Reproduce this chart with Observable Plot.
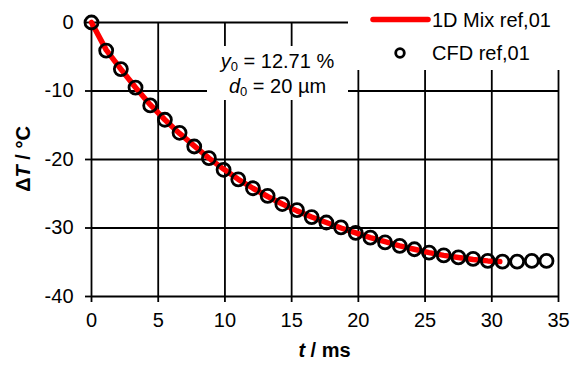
<!DOCTYPE html>
<html>
<head>
<meta charset="utf-8">
<script src="https://cdn.jsdelivr.net/npm/d3@7"></script>
<script src="https://cdn.jsdelivr.net/npm/@observablehq/plot@0.6"></script>
<style>
  html, body { margin: 0; padding: 0; background: #fff; }
  body { font-family: "Liberation Sans", Arial, sans-serif; }
  #wrap { position: relative; width: 577px; height: 367px; overflow: hidden; }
  #wrap svg { display: block; }
  .ov { position: absolute; color: #000; font-family: "Liberation Sans", Arial, sans-serif; }
</style>
</head>
<body>
<div id="wrap"></div>
<script>
// ---- data ----
const cfdT  = [0, 1.1, 2.2, 3.3, 4.4, 5.5, 6.6, 7.7, 8.8, 9.9, 11.0, 12.1, 13.2, 14.3, 15.4, 16.5,
               17.6, 18.7, 19.8, 20.9, 22.0, 23.1, 24.2, 25.3, 26.4, 27.5, 28.6, 29.7, 30.8, 31.9, 33.0, 34.1];
const cfdDT = [0, -4.1, -6.8, -9.5, -12.1, -14.2, -16.1, -18.1, -19.8, -21.5, -22.9, -24.2, -25.3, -26.5, -27.4, -28.4,
               -29.2, -29.9, -30.7, -31.4, -32.1, -32.6, -33.1, -33.6, -34.0, -34.3, -34.5, -34.8, -34.9, -34.9, -34.8, -34.8];
const mixT  = [0, 1.1, 2.2, 3.3, 4.4, 5.5, 6.6, 7.7, 8.8, 9.9, 11.0, 12.1, 13.2, 14.3, 15.4, 16.5,
               17.6, 18.7, 19.8, 20.9, 22.0, 23.1, 24.2, 25.3, 26.4, 27.5, 28.6, 29.7, 30.6];
const mixDT = [0, -4.0, -6.8, -9.5, -12.0, -14.2, -16.2, -18.0, -19.8, -21.4, -22.9, -24.2, -25.4, -26.5, -27.5, -28.4,
               -29.2, -30.0, -30.7, -31.4, -32.0, -32.6, -33.1, -33.6, -34.0, -34.3, -34.6, -34.8, -34.9];
const xTicks = [0, 5, 10, 15, 20, 25, 30, 35];
const yTicks = [0, -10, -20, -30, -40];
const legendLabels = ["1D Mix ref,01", "CFD ref,01"];
const annotLines = [["y", "0", " = 12.71 %"], ["d", "0", " = 20 µm"]];

const cfd = cfdT.map((t, i) => ({t, dT: cfdDT[i]}));
const mix = mixT.map((t, i) => ({t, dT: mixDT[i]}));

const W = 577, H = 367;
const fmt = d => String(d);
const chart = Plot.plot({
  width: W, height: H,
  marginLeft: 91, marginRight: 19, marginTop: 22, marginBottom: 71,
  style: {fontFamily: "'Liberation Sans', Arial, sans-serif", fontSize: "20px", color: "#000", background: "#fff"},
  x: {domain: [0, 35], ticks: xTicks, label: null},
  y: {domain: [-40, 0], ticks: yTicks, label: null},
  marks: [
    Plot.gridX(xTicks, {stroke: "#000", strokeOpacity: 1, strokeWidth: 1.8}),
    Plot.gridY(yTicks, {stroke: "#000", strokeOpacity: 1, strokeWidth: 1.8}),
    Plot.axisX({ticks: xTicks, tickFormat: fmt, tickSize: 6, tickPadding: 10, stroke: "#000", strokeWidth: 1.8, fontSize: 20, label: null}),
    Plot.axisY({ticks: yTicks, tickFormat: fmt, tickSize: 6, tickPadding: 12, stroke: "#000", strokeWidth: 1.8, fontSize: 20, label: null}),
    Plot.line(mix, {x: "t", y: "dT", stroke: "#ff0000", strokeWidth: 5.5}),
    Plot.dot(cfd, {x: "t", y: "dT", r: 6.5, stroke: "#000", strokeWidth: 2.8, fill: "none"})
  ]
});
const wrap = document.getElementById("wrap");
wrap.appendChild(chart);

// axis titles
const xl = document.createElement("div");
xl.className = "ov";
xl.style.cssText = "left:0;width:" + (91 + (W - 91 - 19) / 2) * 2 + "px;top:339px;text-align:center;font-size:20px;font-weight:bold;";
xl.innerHTML = "<i>t</i> / ms";
wrap.appendChild(xl);

const yl = document.createElement("div");
yl.className = "ov";
yl.style.cssText = "left:23px;top:159px;transform:translate(-50%,-50%) rotate(-90deg);white-space:nowrap;font-size:20px;font-weight:bold;";
yl.innerHTML = "Δ<i>T</i> / °C";
wrap.appendChild(yl);

// annotation box
const an = document.createElement("div");
an.className = "ov";
an.style.cssText = "left:207px;top:46px;width:141px;height:54px;background:#fff;font-size:20px;line-height:25px;text-align:center;padding-top:3px;box-sizing:border-box;";
an.innerHTML = annotLines.map(l => "<div style='height:25px;overflow:visible'><i>" + l[0] + "</i><sub style='font-size:13px;vertical-align:-3px;line-height:0'>" + l[1] + "</sub>" + l[2] + "</div>").join("");
wrap.appendChild(an);

// legend box
const lg = document.createElement("div");
lg.className = "ov";
lg.style.cssText = "left:348px;top:0;width:229px;height:70px;background:#fff;font-size:20px;";
lg.innerHTML =
  "<svg width='229' height='70' style='position:absolute;left:0;top:0'>" +
  "<line x1='25' x2='80' y1='19.5' y2='19.5' stroke='#ff0000' stroke-width='5.5' stroke-linecap='round'/>" +
  "<circle cx='52' cy='53' r='4.3' fill='none' stroke='#000' stroke-width='2.8'/>" +
  "<text x='84' y='26.5' font-size='20' font-family=\"'Liberation Sans', Arial, sans-serif\">" + legendLabels[0] + "</text>" +
  "<text x='84' y='60' font-size='20' font-family=\"'Liberation Sans', Arial, sans-serif\">" + legendLabels[1] + "</text>" +
  "</svg>";
wrap.appendChild(lg);
</script>
</body>
</html>
